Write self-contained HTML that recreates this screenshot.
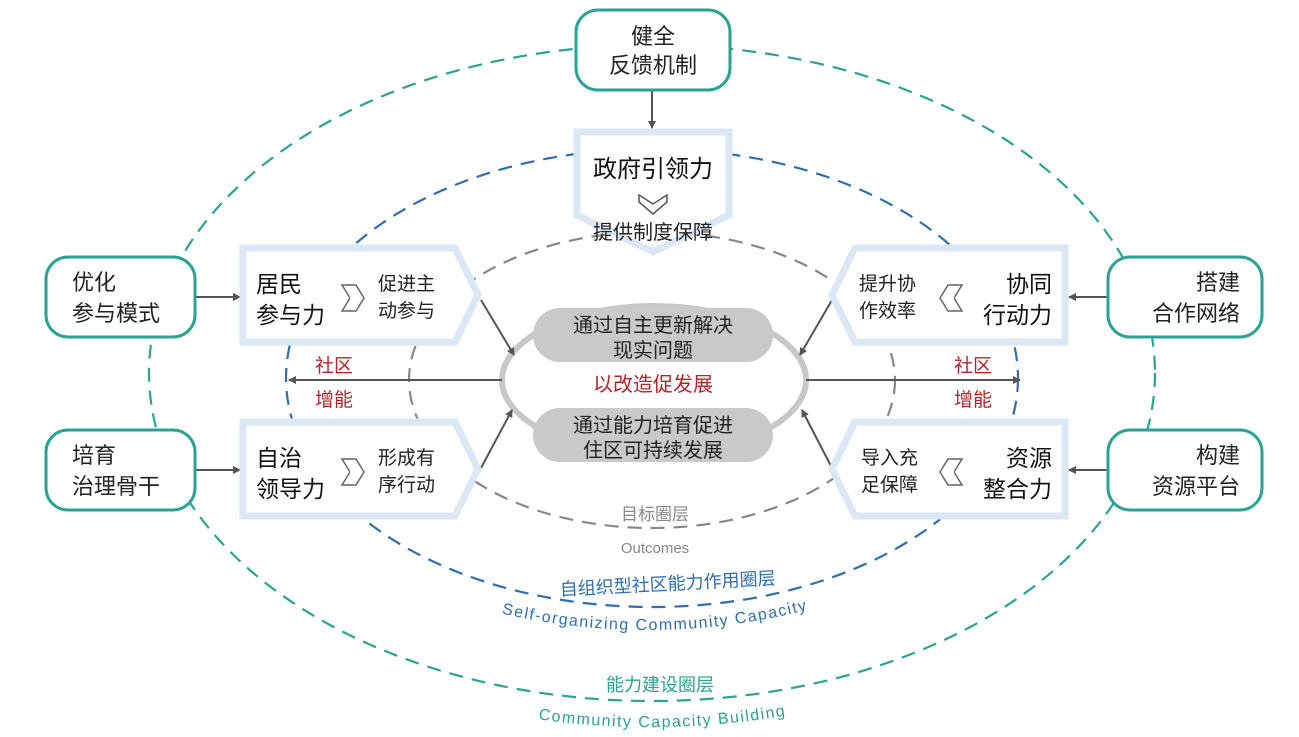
<!DOCTYPE html>
<html><head><meta charset="utf-8"><style>
html,body{margin:0;padding:0;background:#fff;}
svg{display:block;}
text{font-family:"Liberation Sans","Noto Sans CJK SC",sans-serif;}
</style></head><body>
<svg width="1299" height="737" viewBox="0 0 1299 737" xmlns="http://www.w3.org/2000/svg">
<defs>
<marker id="ah" markerWidth="8" markerHeight="8" refX="7" refY="4" orient="auto" markerUnits="userSpaceOnUse"><path d="M0,0 L8,4 L0,8 Z" fill="#555"/></marker>
<path id="p1" d="M495,612 Q655,650 815,608"/>
<path id="p2" d="M530,718 Q660,738 795,714"/>
</defs>
<ellipse cx="652" cy="373" rx="503" ry="328" fill="none" stroke="#2aa392" stroke-width="2.2" stroke-dasharray="14,9"/>
<ellipse cx="652" cy="378" rx="366" ry="229" fill="none" stroke="#2f6eb0" stroke-width="2.2" stroke-dasharray="14,9"/>
<ellipse cx="652" cy="380" rx="243" ry="148" fill="none" stroke="#888" stroke-width="2.2" stroke-dasharray="14,9"/>
<ellipse cx="654" cy="380" rx="152" ry="74" fill="#fff" stroke="#c8c8c8" stroke-width="6"/>
<rect x="533" y="308" width="240" height="54" rx="27" fill="#c9c9c9"/>
<rect x="533" y="408" width="240" height="54" rx="27" fill="#c9c9c9"/>
<g font-size="20" fill="#222" text-anchor="middle">
<text x="653" y="332">通过自主更新解决</text>
<text x="653" y="357">现实问题</text>
<text x="653" y="432">通过能力培育促进</text>
<text x="653" y="457">住区可持续发展</text>
</g>
<text x="653" y="391" font-size="20" fill="#b5242b" text-anchor="middle">以改造促发展</text>
<line x1="502" y1="380" x2="289" y2="380" stroke="#555" stroke-width="2" marker-end="url(#ah)"/>
<line x1="806" y1="380" x2="1020" y2="380" stroke="#555" stroke-width="2" marker-end="url(#ah)"/>
<g font-size="19" fill="#b5242b" text-anchor="middle">
<text x="334" y="372">社区</text><text x="334" y="406">增能</text>
<text x="973" y="372">社区</text><text x="973" y="406">增能</text>
</g>
<g stroke="#555" stroke-width="2" marker-end="url(#ah)">
<line x1="481" y1="300" x2="514" y2="355"/>
<line x1="481" y1="468" x2="512" y2="410"/>
<line x1="832" y1="300" x2="800" y2="355"/>
<line x1="832" y1="468" x2="802" y2="410"/>
<line x1="652" y1="90" x2="652" y2="128"/>
<line x1="196" y1="297" x2="240" y2="297"/>
<line x1="196" y1="470" x2="240" y2="470"/>
<line x1="1108" y1="297" x2="1069" y2="297"/>
<line x1="1108" y1="470" x2="1069" y2="470"/>
</g>
<path d="M577,132 L729,132 L729,215 L653,252 L577,215 Z" fill="#fff" stroke="#dbe7f4" stroke-width="7"/>
<text x="653" y="177" font-size="24" fill="#111" text-anchor="middle">政府引领力</text>
<path d="M639,195 L653,204 L667,195 L667,202 L653,214 L639,202 Z" fill="#fff" stroke="#555" stroke-width="1.5"/>
<text x="653" y="239" font-size="20" fill="#222" text-anchor="middle">提供制度保障</text>
<path d="M243,248 L455,248 L478,295 L455,342 L243,342 Z" fill="#fff" stroke="#dbe7f4" stroke-width="7"/>
<path d="M243,422 L455,422 L478,469 L455,516 L243,516 Z" fill="#fff" stroke="#dbe7f4" stroke-width="7"/>
<path d="M1065,248 L855,248 L832,295 L855,342 L1065,342 Z" fill="#fff" stroke="#dbe7f4" stroke-width="7"/>
<path d="M1065,422 L855,422 L832,469 L855,516 L1065,516 Z" fill="#fff" stroke="#dbe7f4" stroke-width="7"/>
<g font-size="23" fill="#111">
<text x="256" y="292">居民</text><text x="256" y="323">参与力</text>
<text x="256" y="466">自治</text><text x="256" y="497">领导力</text>
<text x="1052" y="292" text-anchor="end">协同</text><text x="1052" y="323" text-anchor="end">行动力</text>
<text x="1052" y="466" text-anchor="end">资源</text><text x="1052" y="497" text-anchor="end">整合力</text>
</g>
<g font-size="19" fill="#222">
<text x="378" y="290">促进主</text><text x="378" y="317">动参与</text>
<text x="378" y="464">形成有</text><text x="378" y="491">序行动</text>
<text x="859" y="290">提升协</text><text x="859" y="317">作效率</text>
<text x="861" y="464">导入充</text><text x="861" y="491">足保障</text>
</g>
<g fill="#fff" stroke="#666" stroke-width="1.5">
<path d="M342,285 L350,285 L358,298 L350,311 L342,311 L350,298 Z"/>
<path d="M350,285 L356,285 L364,298 L356,311 L350,311"/>
<path d="M342,459 L350,459 L358,472 L350,485 L342,485 L350,472 Z"/>
<path d="M350,459 L356,459 L364,472 L356,485 L350,485"/>
<path d="M962,285 L954,285 L946,298 L954,311 L962,311 L954,298 Z"/>
<path d="M954,285 L948,285 L940,298 L948,311 L954,311"/>
<path d="M962,459 L954,459 L946,472 L954,485 L962,485 L954,472 Z"/>
<path d="M954,459 L948,459 L940,472 L948,485 L954,485"/>
</g>
<g fill="#fff" stroke="#2aa392" stroke-width="3">
<rect x="576" y="10" width="154" height="80" rx="22"/>
<rect x="46" y="257" width="149" height="80" rx="22"/>
<rect x="46" y="430" width="149" height="80" rx="22"/>
<rect x="1108" y="257" width="154" height="80" rx="22"/>
<rect x="1108" y="430" width="154" height="80" rx="22"/>
</g>
<g font-size="22" fill="#222">
<text x="653" y="44" text-anchor="middle">健全</text><text x="653" y="73" text-anchor="middle">反馈机制</text>
<text x="72" y="290">优化</text><text x="72" y="321">参与模式</text>
<text x="72" y="463">培育</text><text x="72" y="494">治理骨干</text>
<text x="1240" y="290" text-anchor="end">搭建</text><text x="1240" y="321" text-anchor="end">合作网络</text>
<text x="1240" y="463" text-anchor="end">构建</text><text x="1240" y="494" text-anchor="end">资源平台</text>
</g>
<text x="655" y="520" font-size="17" fill="#888" text-anchor="middle">目标圈层</text>
<text x="655" y="553" font-size="15" fill="#888" text-anchor="middle">Outcomes</text>
<text x="668" y="590" font-size="18" fill="#2f6eb0" text-anchor="middle" transform="rotate(-3 668 590)">自组织型社区能力作用圈层</text>
<text font-size="16" fill="#2f6eb0" letter-spacing="1.5"><textPath href="#p1" startOffset="50%" text-anchor="middle">Self-organizing Community Capacity</textPath></text>
<text x="660" y="691" font-size="18" fill="#2aa392" text-anchor="middle">能力建设圈层</text>
<text font-size="16" fill="#2aa392" letter-spacing="1.5"><textPath href="#p2" startOffset="50%" text-anchor="middle">Community Capacity Building</textPath></text>
</svg>
</body></html>
